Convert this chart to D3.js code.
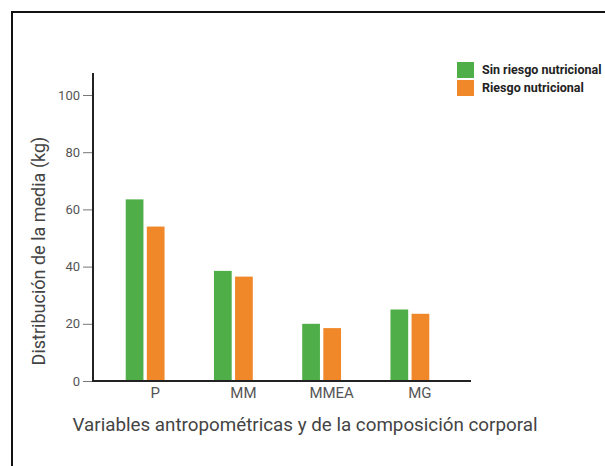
<!DOCTYPE html>
<html>
<head>
<meta charset="utf-8">
<script src="https://cdn.jsdelivr.net/npm/d3@7"></script>
<style>
  body { margin: 0; background: #fff; font-family: Roboto, "Noto Sans", sans-serif; overflow: hidden; }
  .tick text { fill: #555; }
</style>
</head>
<body>
<div id="chart"></div>
<script>
const categories = ['P', 'MM', 'MMEA', 'MG'];
const seriesNames = ['Sin riesgo nutricional', 'Riesgo nutricional'];
const sinRiesgoVals = [63.5, 38.5, 20, 25];
const riesgoVals = [54, 36.5, 18.5, 23.5];
const yTicks = [0, 20, 40, 60, 80, 100];
const colors = ['#4fae47', '#f0882a'];

const width = 605, height = 466;
const svg = d3.select('#chart').append('svg')
    .attr('width', width)
    .attr('height', height);

// outer frame (only left and top edges show)
svg.append('path')
    .attr('d', 'M12,' + height + ' L12,12 L' + width + ',12')
    .attr('fill', 'none')
    .attr('stroke', '#111')
    .attr('stroke-width', 2);

const x = d3.scaleBand().domain(categories).range([101, 454]).paddingInner(0.56).paddingOuter(0.28);
const xs = d3.scaleBand().domain(seriesNames).range([0, x.bandwidth()]).paddingInner(0.16).paddingOuter(0);
const y = d3.scaleLinear().domain([0, 100]).range([381, 95]);

const data = categories.map((c, i) => ({ cat: c, vals: [sinRiesgoVals[i], riesgoVals[i]] }));

svg.append('g')
    .selectAll('g').data(data)
    .enter().append('g')
    .attr('transform', d => 'translate(' + x(d.cat) + ',0)')
    .selectAll('rect').data(d => d.vals.map((v, j) => ({ name: seriesNames[j], v: v, j: j })))
    .enter().append('rect')
    .attr('x', d => xs(d.name))
    .attr('width', xs.bandwidth())
    .attr('y', d => y(d.v))
    .attr('height', d => y(0) - y(d.v))
    .attr('fill', d => colors[d.j]);

// y axis
const yAxis = svg.append('g')
    .attr('transform', 'translate(93,0)')
    .call(d3.axisLeft(y).tickValues(yTicks).tickSize(10).tickPadding(3));
yAxis.select('.domain').remove();
yAxis.selectAll('.tick line').attr('stroke', '#777');
yAxis.selectAll('.tick text').attr('font-size', 13).attr('font-family', 'Roboto');
svg.append('line')
    .attr('x1', 93).attr('x2', 93)
    .attr('y1', 73).attr('y2', y(0) + 1)
    .attr('stroke', '#222').attr('stroke-width', 2);

// x axis
svg.append('line')
    .attr('x1', 92).attr('x2', 471)
    .attr('y1', y(0)).attr('y2', y(0))
    .attr('stroke', '#222').attr('stroke-width', 2);
const xAxis = svg.append('g')
    .attr('transform', 'translate(10,' + y(0) + ')')
    .call(d3.axisBottom(x).tickSize(0).tickPadding(6));
xAxis.select('.domain').remove();
xAxis.selectAll('.tick text').attr('font-size', 15).attr('font-family', 'Roboto');

// axis titles
svg.append('text')
    .attr('transform', 'translate(45,251) rotate(-90)')
    .attr('text-anchor', 'middle')
    .attr('font-size', 18)
    .attr('fill', '#444')
    .text('Distribución de la media (kg)');
svg.append('text')
    .attr('x', 305).attr('y', 431)
    .attr('text-anchor', 'middle')
    .attr('font-size', 18.8)
    .attr('fill', '#444')
    .text('Variables antropométricas y de la composición corporal');

// legend
const legend = svg.append('g').attr('transform', 'translate(457,62)');
seriesNames.forEach((s, i) => {
    legend.append('rect')
        .attr('x', 0).attr('y', i * 18)
        .attr('width', 17).attr('height', 16)
        .attr('fill', colors[i]);
    legend.append('text')
        .attr('x', 25).attr('y', i * 18 + 12)
        .attr('font-size', 12.5)
        .attr('font-weight', 'bold')
        .attr('fill', '#222')
        .text(s);
});
</script>
</body>
</html>
